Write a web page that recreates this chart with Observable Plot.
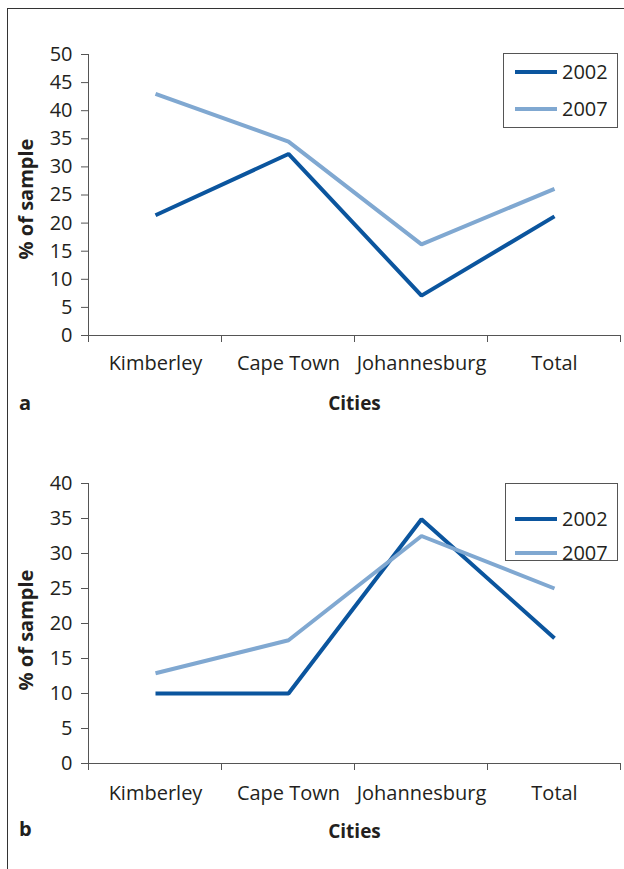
<!DOCTYPE html>
<html>
<head>
<meta charset="utf-8">
<script src="https://cdn.jsdelivr.net/npm/d3@7"></script>
<script src="https://cdn.jsdelivr.net/npm/@observablehq/plot@0.6"></script>
<style>
  html, body { margin: 0; padding: 0; background: #fff; }
  #page { position: relative; width: 624px; height: 869px; overflow: hidden; font-family: "Open Sans", sans-serif; color: #231f20; }
  #page svg { position: absolute; left: 0; }
  .t { position: absolute; white-space: nowrap; line-height: 1; }
  .ylab { font-weight: bold; font-size: 20px; transform: translate(-50%, -50%) rotate(-90deg); }
  .xlab { font-weight: bold; font-size: 19px; transform: translate(-50%, -50%); }
  .panel { font-weight: bold; font-size: 20px; transform: translate(0, -50%); }
  .legend { position: absolute; border: 1px solid #555; box-sizing: border-box; background: #fff; }
  .lg-line { position: absolute; height: 4px; }
  .lg-text { position: absolute; font-size: 20px; line-height: 1; transform: translateY(-50%); }
</style>
</head>
<body>
<div id="page"></div>
<script>
// ---- data ----
const cities = ["Kimberley", "Cape Town", "Johannesburg", "Total"];
const years = ["2002", "2007"];
const colors = ["#0b559e", "#80a8d1"];

const panelA2002 = [21.4, 32.3, 7.1, 21.2];
const panelA2007 = [43.0, 34.5, 16.2, 26.1];
const panelB2002 = [10.0, 10.0, 34.9, 17.9];
const panelB2007 = [12.9, 17.6, 32.5, 25.0];

const yTicksA = [0, 5, 10, 15, 20, 25, 30, 35, 40, 45, 50];
const yTicksB = [0, 5, 10, 15, 20, 25, 30, 35, 40];

const yLabel = "% of sample";
const xLabel = "Cities";

// ---- helpers ----
const page = document.getElementById("page");
const FONT = '"Open Sans", sans-serif';
const AXIS = "#555";

function longData(s2002, s2007) {
  const out = [];
  cities.forEach((c, i) => out.push({ city: c, year: years[0], value: s2002[i] }));
  cities.forEach((c, i) => out.push({ city: c, year: years[1], value: s2007[i] }));
  return out;
}

function makePanel({ top, height, marginTop, marginBottom, yMax, yTicks, s2002, s2007, xPad }) {
  const data = longData(s2002, s2007);
  const plot = Plot.plot({
    width: 624,
    height,
    marginLeft: 88,
    marginRight: 3,
    marginTop,
    marginBottom,
    style: { fontFamily: FONT, fontSize: "20px", color: "#231f20", background: "transparent", overflow: "visible" },
    x: { type: "point", domain: cities, padding: 0.5, axis: null },
    y: { domain: [0, yMax], axis: null },
    color: { domain: years, range: colors },
    marks: [
      Plot.axisY({ ticks: yTicks, tickSize: 7, tickPadding: 9, label: null, stroke: AXIS, fontSize: 20, tickFormat: d => String(d) }),
      Plot.axisX({ tickSize: 0, tickPadding: xPad, label: null, fontSize: 20 }),
      Plot.ruleY([0], { stroke: AXIS, strokeWidth: 1 }),
      Plot.line(data, { x: "city", y: "value", z: "year", stroke: "year", strokeWidth: 4, strokeLinejoin: "miter", strokeLinecap: "butt" })
    ]
  });
  plot.style.top = top + "px";
  page.appendChild(plot);

  // y axis line and category boundary ticks, from the plot's own scales
  const sx = plot.scale("x");
  const sy = plot.scale("y");
  const step = sx.apply(cities[1]) - sx.apply(cities[0]);
  const y0 = sy.apply(0);
  const yTop = sy.apply(yMax);
  const svg = d3.select(plot);
  const g = svg.append("g").attr("stroke", AXIS).attr("stroke-width", 1);
  const xLeft = sx.apply(cities[0]) - step / 2;
  g.append("line").attr("x1", xLeft).attr("x2", xLeft).attr("y1", yTop).attr("y2", y0);
  const bounds = cities.map(c => sx.apply(c) - step / 2).concat([sx.apply(cities[cities.length - 1]) + step / 2]);
  bounds.forEach(b => g.append("line").attr("x1", b).attr("x2", b).attr("y1", y0).attr("y2", y0 + 7));
  return { plot, y0: top + y0, yTop: top + yTop, xMid: (bounds[0] + bounds[bounds.length - 1]) / 2 };
}

function addText(cls, txt, x, y) {
  const d = document.createElement("div");
  d.className = "t " + cls;
  d.textContent = txt;
  d.style.left = x + "px";
  d.style.top = y + "px";
  page.appendChild(d);
}

function addLegend(left, top, w, h, rowYs) {
  const box = document.createElement("div");
  box.className = "legend";
  Object.assign(box.style, { left: left + "px", top: top + "px", width: w + "px", height: h + "px" });
  page.appendChild(box);
  years.forEach((yr, i) => {
    const ln = document.createElement("div");
    ln.className = "lg-line";
    Object.assign(ln.style, { left: "515px", top: (rowYs[i] - 2) + "px", width: "42px", background: colors[i] });
    page.appendChild(ln);
    const tx = document.createElement("div");
    tx.className = "lg-text";
    tx.textContent = yr;
    Object.assign(tx.style, { left: "562px", top: rowYs[i] + "px" });
    page.appendChild(tx);
  });
}

// frame lines
const fl = document.createElement("div");
Object.assign(fl.style, { position: "absolute", left: "7px", top: "8px", width: "1px", height: "861px", background: "#333" });
page.appendChild(fl);
const ft = document.createElement("div");
Object.assign(ft.style, { position: "absolute", left: "7px", top: "8px", width: "617px", height: "1px", background: "#333" });
page.appendChild(ft);

// panel a
const A = makePanel({ top: 0, height: 430, marginTop: 54, marginBottom: 95, yMax: 50, yTicks: yTicksA, s2002: panelA2002, s2007: panelA2007, xPad: 20 });
addText("ylab", yLabel, 26, (A.y0 + A.yTop) / 2 + 4);
addText("xlab", xLabel, A.xMid, 403);
addText("panel", "a", 19, 403);
addLegend(503, 53, 115, 75, [72, 109]);

// panel b
const B = makePanel({ top: 430, height: 439, marginTop: 53, marginBottom: 106, yMax: 40, yTicks: yTicksB, s2002: panelB2002, s2007: panelB2007, xPad: 22 });
addText("ylab", yLabel, 26, (B.y0 + B.yTop) / 2 + 7);
addText("xlab", xLabel, B.xMid, 831);
addText("panel", "b", 19, 829);
addLegend(505, 483, 113, 78, [519, 553]);
</script>
</body>
</html>
